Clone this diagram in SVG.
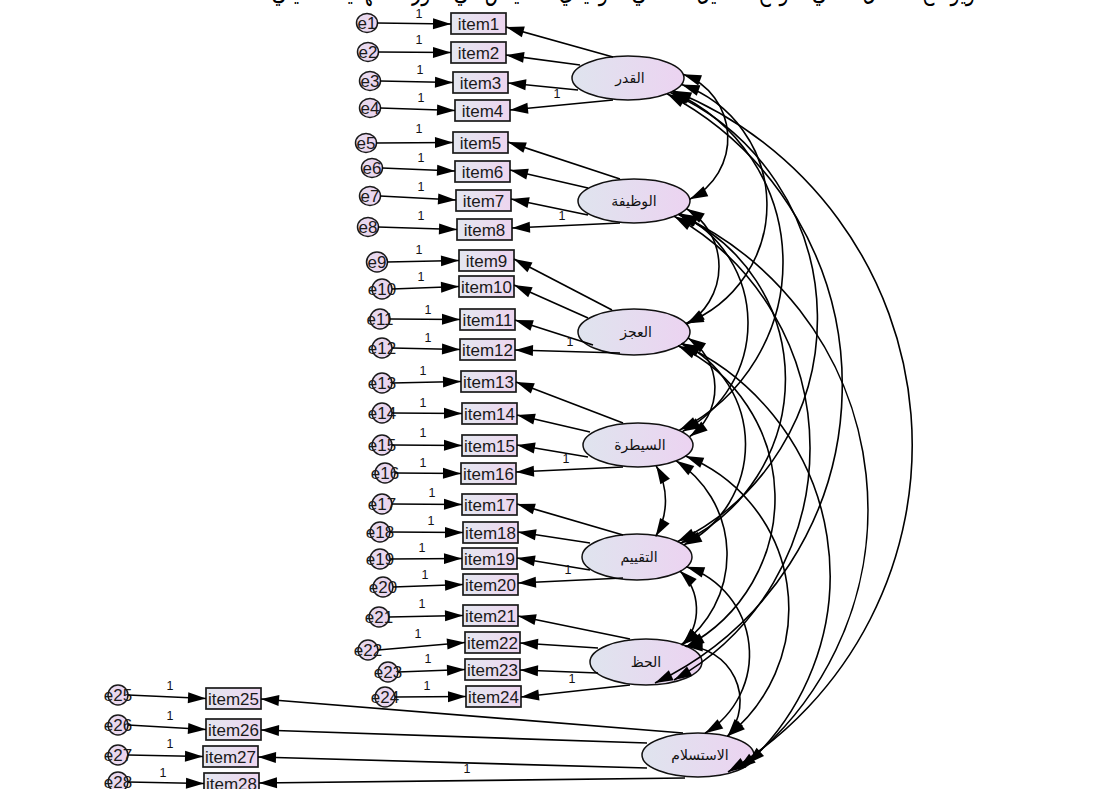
<svg xmlns="http://www.w3.org/2000/svg" width="1110" height="789" viewBox="0 0 1110 789">
<defs>
  <linearGradient id="gObs" x1="0" y1="0" x2="1" y2="0">
    <stop offset="0" stop-color="#e4e7f0"/>
    <stop offset="1" stop-color="#edd5ef"/>
  </linearGradient>
  <linearGradient id="gLat" x1="0" y1="0" x2="1" y2="0">
    <stop offset="0" stop-color="#dfe4ee"/>
    <stop offset="1" stop-color="#ecd3f1"/>
  </linearGradient>
  <linearGradient id="gErr" x1="0" y1="0" x2="1" y2="0">
    <stop offset="0" stop-color="#e6dcef"/>
    <stop offset="1" stop-color="#edd3ef"/>
  </linearGradient>
  <marker id="ah" markerUnits="userSpaceOnUse" viewBox="0 0 18 11" markerWidth="18" markerHeight="11" refX="18" refY="5.5" orient="auto-start-reverse" overflow="visible">
    <path d="M0,0 L18,5.5 L0,11 Z" fill="#000"/>
  </marker>
</defs>
<style>
  .obs rect { fill: url(#gObs); stroke: #1a1a1a; stroke-width: 1.7; }
  .obs text, .err text { font-family: "Liberation Sans", Arial, sans-serif; font-size: 17px; fill: #1a1a1a; text-anchor: middle; }
  .err ellipse { fill: url(#gErr); stroke: #1a1a1a; stroke-width: 1.5; }
  .lat ellipse { fill: url(#gLat); stroke: #111; stroke-width: 1.5; }
  .lat text { font-family: "DejaVu Sans", "Noto Sans", sans-serif; font-size: 14px; fill: #111; text-anchor: middle; }
  .conn path { fill: none; stroke: #000; stroke-width: 1.7; marker-end: url(#ah); }
  .conn .cov { marker-start: url(#ah); stroke-width: 1.6; }
  .conn text { font-family: "Liberation Sans", Arial, sans-serif; font-size: 12.5px; fill: #111; text-anchor: middle; }
  .caption { font-family: "DejaVu Sans", "Noto Sans", sans-serif; font-size: 26px; fill: #000; }
</style>
<rect width="1110" height="789" fill="#fff"/>

<!-- heading line, running off the top edge -->
<text class="caption" x="620" y="0" text-anchor="middle" direction="rtl" textLength="710" lengthAdjust="spacingAndGlyphs">ويوضح الشكل التالي نموذج التحليل العاملي التوكيدي للمقياس في صورته النهائية كما يلي:</text>

<!-- observed items -->
<g id="item1" class="obs"><rect x="451" y="13" width="55" height="21"/><text x="478.5" y="29.5">item1</text></g>
<g id="item2" class="obs"><rect x="451" y="42" width="55" height="21"/><text x="478.5" y="58.5">item2</text></g>
<g id="item3" class="obs"><rect x="453" y="72" width="55" height="21"/><text x="480.5" y="88.5">item3</text></g>
<g id="item4" class="obs"><rect x="455" y="100" width="55" height="21"/><text x="482.5" y="116.5">item4</text></g>
<g id="item5" class="obs"><rect x="453" y="132" width="55" height="21"/><text x="480.5" y="148.5">item5</text></g>
<g id="item6" class="obs"><rect x="455" y="161" width="55" height="21"/><text x="482.5" y="177.5">item6</text></g>
<g id="item7" class="obs"><rect x="456" y="190" width="55" height="21"/><text x="483.5" y="206.5">item7</text></g>
<g id="item8" class="obs"><rect x="457" y="219" width="55" height="21"/><text x="484.5" y="235.5">item8</text></g>
<g id="item9" class="obs"><rect x="459" y="250" width="55" height="21"/><text x="486.5" y="266.5">item9</text></g>
<g id="item10" class="obs"><rect x="459" y="276" width="55" height="21"/><text x="486.5" y="292.5">item10</text></g>
<g id="item11" class="obs"><rect x="460" y="309" width="55" height="21"/><text x="487.5" y="325.5">item11</text></g>
<g id="item12" class="obs"><rect x="460" y="339" width="55" height="21"/><text x="487.5" y="355.5">item12</text></g>
<g id="item13" class="obs"><rect x="461" y="371" width="55" height="21"/><text x="488.5" y="387.5">item13</text></g>
<g id="item14" class="obs"><rect x="462" y="403" width="55" height="21"/><text x="489.5" y="419.5">item14</text></g>
<g id="item15" class="obs"><rect x="462" y="435" width="55" height="21"/><text x="489.5" y="451.5">item15</text></g>
<g id="item16" class="obs"><rect x="461" y="463" width="55" height="21"/><text x="488.5" y="479.5">item16</text></g>
<g id="item17" class="obs"><rect x="462" y="494" width="55" height="21"/><text x="489.5" y="510.5">item17</text></g>
<g id="item18" class="obs"><rect x="463" y="522" width="55" height="21"/><text x="490.5" y="538.5">item18</text></g>
<g id="item19" class="obs"><rect x="462" y="548" width="55" height="21"/><text x="489.5" y="564.5">item19</text></g>
<g id="item20" class="obs"><rect x="463" y="574" width="55" height="21"/><text x="490.5" y="590.5">item20</text></g>
<g id="item21" class="obs"><rect x="463" y="605" width="55" height="21"/><text x="490.5" y="621.5">item21</text></g>
<g id="item22" class="obs"><rect x="465" y="632" width="55" height="21"/><text x="492.5" y="648.5">item22</text></g>
<g id="item23" class="obs"><rect x="465" y="659" width="55" height="21"/><text x="492.5" y="675.5">item23</text></g>
<g id="item24" class="obs"><rect x="466" y="686" width="55" height="21"/><text x="493.5" y="702.5">item24</text></g>
<g id="item25" class="obs"><rect x="206" y="688" width="55" height="21"/><text x="233.5" y="704.5">item25</text></g>
<g id="item26" class="obs"><rect x="206" y="719" width="55" height="21"/><text x="233.5" y="735.5">item26</text></g>
<g id="item27" class="obs"><rect x="203" y="746" width="55" height="21"/><text x="230.5" y="762.5">item27</text></g>
<g id="item28" class="obs"><rect x="204" y="773" width="55" height="21"/><text x="231.5" y="789.5">item28</text></g>

<!-- error terms -->
<g id="e1" class="err"><ellipse cx="367" cy="23" rx="10.5" ry="9.5"/><text x="367" y="29">e1</text></g>
<g id="e2" class="err"><ellipse cx="368" cy="52" rx="10.5" ry="9.5"/><text x="368" y="58">e2</text></g>
<g id="e3" class="err"><ellipse cx="370" cy="81" rx="10.5" ry="9.5"/><text x="370" y="87">e3</text></g>
<g id="e4" class="err"><ellipse cx="370" cy="108" rx="10.5" ry="9.5"/><text x="370" y="114">e4</text></g>
<g id="e5" class="err"><ellipse cx="366" cy="143" rx="10.5" ry="9.5"/><text x="366" y="149">e5</text></g>
<g id="e6" class="err"><ellipse cx="372" cy="168" rx="10.5" ry="9.5"/><text x="372" y="174">e6</text></g>
<g id="e7" class="err"><ellipse cx="370" cy="196" rx="10.5" ry="9.5"/><text x="370" y="202">e7</text></g>
<g id="e8" class="err"><ellipse cx="368" cy="227" rx="10.5" ry="9.5"/><text x="368" y="233">e8</text></g>
<g id="e9" class="err"><ellipse cx="377" cy="262" rx="10.5" ry="10"/><text x="377" y="268">e9</text></g>
<g id="e10" class="err"><ellipse cx="382" cy="289" rx="10" ry="10"/><text x="382" y="295">e10</text></g>
<g id="e11" class="err"><ellipse cx="380" cy="319" rx="10" ry="10"/><text x="380" y="325">e11</text></g>
<g id="e12" class="err"><ellipse cx="382" cy="348" rx="10" ry="10"/><text x="382" y="354">e12</text></g>
<g id="e13" class="err"><ellipse cx="382" cy="383" rx="10" ry="10"/><text x="382" y="389">e13</text></g>
<g id="e14" class="err"><ellipse cx="382" cy="413" rx="10" ry="10"/><text x="382" y="419">e14</text></g>
<g id="e15" class="err"><ellipse cx="382" cy="445" rx="10" ry="10"/><text x="382" y="451">e15</text></g>
<g id="e16" class="err"><ellipse cx="385" cy="473" rx="10" ry="10"/><text x="385" y="479">e16</text></g>
<g id="e17" class="err"><ellipse cx="382" cy="504" rx="10" ry="10"/><text x="382" y="510">e17</text></g>
<g id="e18" class="err"><ellipse cx="380" cy="532" rx="10" ry="10"/><text x="380" y="538">e18</text></g>
<g id="e19" class="err"><ellipse cx="380" cy="559" rx="10" ry="10"/><text x="380" y="565">e19</text></g>
<g id="e20" class="err"><ellipse cx="383" cy="587" rx="10" ry="10"/><text x="383" y="593">e20</text></g>
<g id="e21" class="err"><ellipse cx="379" cy="617" rx="10" ry="10"/><text x="379" y="623">e21</text></g>
<g id="e22" class="err"><ellipse cx="368" cy="650" rx="10" ry="10"/><text x="368" y="656">e22</text></g>
<g id="e23" class="err"><ellipse cx="388" cy="672" rx="10" ry="10"/><text x="388" y="678">e23</text></g>
<g id="e24" class="err"><ellipse cx="385" cy="697" rx="10" ry="10"/><text x="385" y="703">e24</text></g>
<g id="e25" class="err"><ellipse cx="118" cy="695" rx="10" ry="10"/><text x="118" y="701">e25</text></g>
<g id="e26" class="err"><ellipse cx="118" cy="725" rx="10" ry="10"/><text x="118" y="731">e26</text></g>
<g id="e27" class="err"><ellipse cx="118" cy="755" rx="10" ry="10"/><text x="118" y="761">e27</text></g>
<g id="e28" class="err"><ellipse cx="118" cy="782" rx="10" ry="10"/><text x="118" y="788">e28</text></g>

<!-- latent factors -->
<g id="F1" class="lat"><ellipse cx="628" cy="78" rx="56" ry="22"/><text x="630" y="83">القدر</text></g>
<g id="F2" class="lat"><ellipse cx="634" cy="201" rx="56" ry="22"/><text x="634" y="206">الوظيفة</text></g>
<g id="F3" class="lat"><ellipse cx="634" cy="332" rx="56" ry="23"/><text x="636" y="337">العجز</text></g>
<g id="F4" class="lat"><ellipse cx="638" cy="445" rx="55" ry="22"/><text x="640" y="450">السيطرة</text></g>
<g id="F5" class="lat"><ellipse cx="637" cy="557" rx="55" ry="23"/><text x="639" y="562">التقييم</text></g>
<g id="F6" class="lat"><ellipse cx="646" cy="662" rx="56" ry="23"/><text x="646" y="667">الحظ</text></g>
<g id="F7" class="lat"><ellipse cx="698" cy="755" rx="56" ry="22"/><text x="700" y="760">الاستسلام</text></g>

<g id="connectors" class="conn">
  <!-- error paths -->
  <path d="M377,23 L451,24"/>
  <path d="M378,52 L451,52.5"/>
  <path d="M380,81 L453,82.5"/>
  <path d="M380,108 L455,110.5"/>
  <path d="M376,143 L453,142.5"/>
  <path d="M382,168 L455,171"/>
  <path d="M380,196 L456,200"/>
  <path d="M378,227 L457,229.5"/>
  <path d="M387,262 L459,260.5"/>
  <path d="M392,289 L459,286.5"/>
  <path d="M390,319 L460,319.5"/>
  <path d="M392,348 L460,349.5"/>
  <path d="M392,383 L461,381.5"/>
  <path d="M392,413 L462,413.5"/>
  <path d="M392,445 L462,445.5"/>
  <path d="M395,473 L461,473.5"/>
  <path d="M392,504 L462,504.5"/>
  <path d="M390,532 L463,532.5"/>
  <path d="M390,559 L462,558.5"/>
  <path d="M393,587 L463,584.5"/>
  <path d="M389,617 L463,615.5"/>
  <path d="M378,650 L465,642.5"/>
  <path d="M398,672 L465,669.5"/>
  <path d="M395,697 L466,696.5"/>
  <path d="M128,695 L206,698.5"/>
  <path d="M128,725 L206,729.5"/>
  <path d="M128,755 L203,756.5"/>
  <path d="M128,782 L204,783.5"/>

  <text x="419" y="18">1</text><text x="419" y="44">1</text><text x="420" y="74">1</text><text x="421" y="102">1</text>
  <text x="419" y="133">1</text><text x="421" y="162">1</text><text x="421" y="191">1</text><text x="421" y="220">1</text>
  <text x="419" y="254">1</text><text x="421" y="281">1</text><text x="428" y="314">1</text><text x="428" y="342">1</text>
  <text x="423" y="375">1</text><text x="423" y="407">1</text><text x="423" y="437">1</text><text x="423" y="467">1</text>
  <text x="432" y="497">1</text><text x="431" y="525">1</text><text x="422" y="552">1</text><text x="425" y="579">1</text>
  <text x="422" y="608">1</text><text x="418" y="638">1</text><text x="428" y="663">1</text><text x="427" y="690">1</text>
  <text x="170" y="690">1</text><text x="170" y="720">1</text><text x="170" y="748">1</text><text x="163" y="777">1</text>

  <!-- factor loadings -->
  <path d="M613,57 L506,27"/>
  <path d="M580,65 L506,55"/>
  <path d="M578,90 L508,83"/>
  <path d="M613,100 L510,110"/>
  <path d="M620,179 L508,142"/>
  <path d="M588,188 L510,170"/>
  <path d="M588,215 L511,199"/>
  <path d="M620,223 L512,228"/>
  <path d="M612,310 L514,259"/>
  <path d="M588,318 L514,285"/>
  <path d="M593,345 L515,320"/>
  <path d="M620,353 L515,350"/>
  <path d="M623,423 L516,382"/>
  <path d="M590,432 L517,415"/>
  <path d="M588,457 L517,445"/>
  <path d="M623,467 L516,472"/>
  <path d="M623,535 L517,504"/>
  <path d="M590,543 L518,532"/>
  <path d="M590,570 L517,558"/>
  <path d="M623,578 L518,583"/>
  <path d="M630,639 L518,616"/>
  <path d="M598,648 L520,643"/>
  <path d="M598,673 L520,670"/>
  <path d="M630,685 L521,697"/>
  <path d="M683,733 L261,699"/>
  <path d="M647,743 L261,730"/>
  <path d="M647,768 L258,757"/>
  <path d="M685,778 L259,783"/>

  <text x="557" y="98">1</text><text x="562" y="220">1</text><text x="570" y="346">1</text><text x="566" y="463">1</text>
  <text x="568" y="574">1</text><text x="572" y="683">1</text><text x="467" y="773">1</text>

  <!-- covariances between factors -->
  <path class="cov" d="M683.2,74.2 A68.04,68.04 0 0 1 689.7,199.2"/>
  <path class="cov" d="M681.6,84.6 A127.33,127.33 0 0 1 685.7,323.5"/>
  <path class="cov" d="M672.1,91.5 A187.33,187.33 0 0 1 679.4,430.1"/>
  <path class="cov" d="M670.4,92.4 A247.58,247.58 0 0 1 677.5,541.6"/>
  <path class="cov" d="M667.1,93.8 A330.2,330.2 0 0 1 655,683"/>
  <path class="cov" d="M673.4,90.8 A382.2,382.2 0 0 1 728,772"/>
  <path class="cov" d="M686.6,208.7 A67.74,67.74 0 0 1 686.6,324.3"/>
  <path class="cov" d="M680.1,213.5 A122.47,122.47 0 0 1 682.4,431.6"/>
  <path class="cov" d="M678.6,214.4 A180.61,180.61 0 0 1 680.4,543.3"/>
  <path class="cov" d="M674.2,216.3 A265.7,265.7 0 0 1 674,680"/>
  <path class="cov" d="M678.6,214.3 A324.5,324.5 0 0 1 738,769"/>
  <path class="cov" d="M688,337.9 A59.73,59.73 0 0 1 689.8,436.5"/>
  <path class="cov" d="M682.1,343.3 A112.54,112.54 0 0 1 683.9,544.9"/>
  <path class="cov" d="M678,345.7 A168.47,168.47 0 0 1 686.2,646.7"/>
  <path class="cov" d="M681.3,343.85 A255,255 0 0 1 747,764"/>
  <path class="cov" d="M656.2,465.8 A70,70 0 0 1 655.7,536.3"/>
  <path class="cov" d="M676.2,460.8 A111.84,111.84 0 0 1 681.1,644.9"/>
  <path class="cov" d="M685.5,456.1 A163.86,163.86 0 0 1 727.4,736.2"/>
  <path class="cov" d="M679.8,570.8 A52.74,52.74 0 0 1 682.3,645.3"/>
  <path class="cov" d="M686.4,566.7 A92.3,92.3 0 0 1 705,733.2"/>
  <path class="cov" d="M684.7,646.05 A55.27,55.27 0 0 1 727.5,736.4"/>
</g>
</svg>
